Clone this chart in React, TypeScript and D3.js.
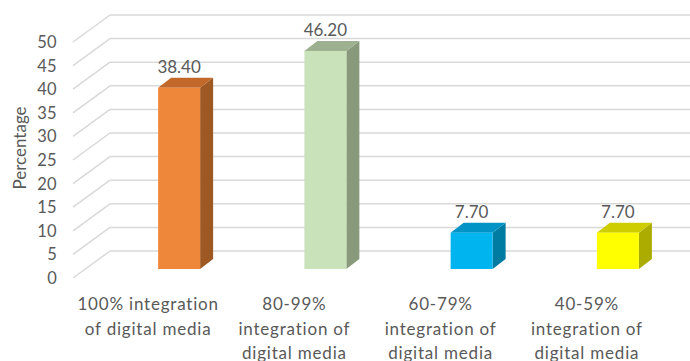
import React from "react";
import * as d3 from "d3";

const categories = ["100%", "80-99%", "60-79%", "40-59%"];
const categoryLines = [
  ["100% integration", "of digital media"],
  ["80-99%", "integration of", "digital media"],
  ["60-79%", "integration of", "digital media"],
  ["40-59%", "integration of", "digital media"],
];
const values = [38.4, 46.2, 7.7, 7.7];
const valueLabels = ["38.40", "46.20", "7.70", "7.70"];
const yTicks = [0, 5, 10, 15, 20, 25, 30, 35, 40, 45, 50];
const frontColors = ["#EF873A", "#C9E2B9", "#00B4EF", "#FFFF00"];
const topColors = ["#C3682B", "#9DB08F", "#0093C6", "#CDCD00"];
const sideColors = ["#9D5824", "#889A7B", "#007CA2", "#ABAB00"];

const W = 690;
const H = 361;
const FONT = "Lato, 'Open Sans', sans-serif";
const TEXT = "#595959";

export default function App() {
  const yFront = d3.scaleLinear().domain([0, 50]).range([278, 42]);
  const depthDX = 37;
  const depthDY = -27;
  const yBack = (v: number) => yFront(v) + depthDY;
  const yBar = d3.scaleLinear().domain([0, 50]).range([269, 33]);
  const x = d3.scaleBand<string>().domain(categories).range([75, 660]).padding(0);
  const barOffset = 10;
  const barW = 42;
  const bdx = 13;
  const bdy = -10;

  return (
    <svg width={W} height={H} style={{ position: "absolute", left: 0, top: 0, background: "#fff" }}>
      {yTicks.map((t) => (
        <g key={t}>
          <line x1={73} y1={yFront(t)} x2={73 + depthDX} y2={yBack(t)} stroke="#d9d9d9" strokeWidth={1.5} />
          <line x1={73 + depthDX} y1={yBack(t)} x2={W} y2={yBack(t)} stroke="#d9d9d9" strokeWidth={1.5} />
        </g>
      ))}
      {yTicks.map((t) => (
        <text key={t} x={57} y={yFront(t)} textAnchor="end" dominantBaseline="central" fontFamily={FONT} fontSize={16.5} letterSpacing={0.3} fill={TEXT}>
          {t}
        </text>
      ))}
      <text transform={`translate(19,148) rotate(-90)`} textAnchor="middle" dominantBaseline="central" fontFamily={FONT} fontSize={17} fill={TEXT}>
        Percentage
      </text>
      {categories.map((c, i) => {
        const cx = (x(c) as number) + x.bandwidth() / 2;
        const x0 = cx + barOffset;
        const x1 = x0 + barW;
        const y0 = yBar(0);
        const yt = yBar(values[i]);
        const top = `M${x0},${yt} L${x0 + bdx},${yt + bdy} L${x1 + bdx},${yt + bdy} L${x1},${yt} Z`;
        const side = `M${x1},${yt} L${x1 + bdx},${yt + bdy} L${x1 + bdx},${y0 + bdy} L${x1},${y0} Z`;
        return (
          <g key={c}>
            <path d={side} fill={sideColors[i]} />
            <path d={top} fill={topColors[i]} />
            <rect x={x0} y={yt} width={barW} height={y0 - yt} fill={frontColors[i]} />
            <text x={x0 + barW / 2} y={yt - 15} textAnchor="middle" fontFamily={FONT} fontSize={17} fill={TEXT}>
              {valueLabels[i]}
            </text>
          </g>
        );
      })}
      {categories.map((c, i) => {
        const cx = (x(c) as number) + x.bandwidth() / 2;
        return (
          <text key={c} textAnchor="middle" fontFamily={FONT} fontSize={17} letterSpacing={0.8} fill={TEXT}>
            {categoryLines[i].map((ln, j) => (
              <tspan key={j} x={cx} y={310 + j * 24.5}>
                {ln}
              </tspan>
            ))}
          </text>
        );
      })}
    </svg>
  );
}
